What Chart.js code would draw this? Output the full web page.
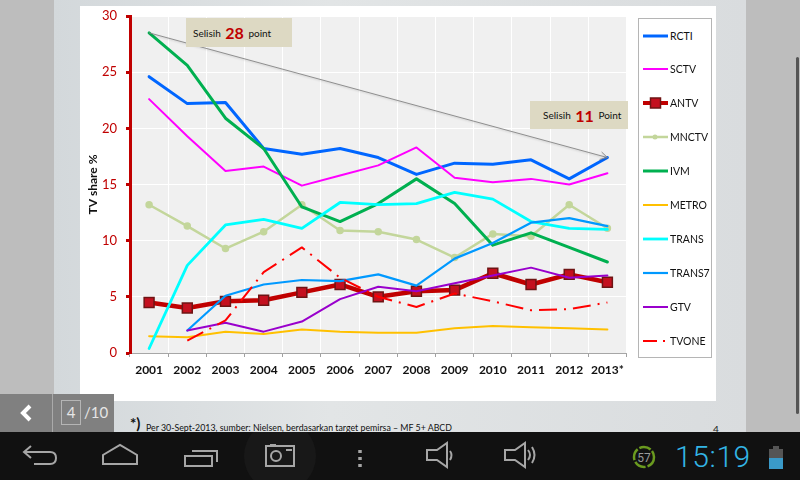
<!DOCTYPE html>
<html>
<head>
<meta charset="utf-8">
<title>TV share</title>
<script src="https://cdn.jsdelivr.net/npm/chart.js@4"></script>
<style>
html, body { margin: 0; padding: 0; }
body { width: 800px; height: 480px; position: relative; overflow: hidden; background: #bdbdbd; font-family: Lato, sans-serif; }
#slide { position: absolute; left: 54px; top: 0; width: 692px; height: 432px; background: linear-gradient(90deg, #d3d8db, #e2e5e6 40%, #d9dcde); }
#paper { position: absolute; left: 80px; top: 6px; width: 636px; height: 395px; background: #fff; }
#grafico { position: absolute; left: 80px; top: 6px; }
.nota { position: absolute; background: #ddd9c3; color: #111; font-size: 10px; display: flex; align-items: center; white-space: pre; box-sizing: border-box; }
.nota b { color: #c00000; font-size: 16px; margin: 0 2px; }
#legenda { position: absolute; left: 638px; top: 18px; width: 72px; height: 338px; border: 1px solid #b5b5b5; background: #fff; }
.item { position: absolute; left: 3px; height: 14px; display: flex; align-items: center; font-size: 10.5px; color: #111; }
.item svg { margin-right: 1px; }
#rodape { position: absolute; left: 146px; top: 422px; font-size: 8.8px; color: #111; white-space: nowrap; }
#asterisco { position: absolute; left: 130px; top: 414px; font-size: 15px; font-weight: bold; color: #111; }
#num { position: absolute; left: 713px; top: 423px; font-size: 10px; color: #222; }
#pager { position: absolute; left: 0; top: 394px; width: 114px; height: 38px; background: #808080; color: #e6e6e6; font-size: 15px; }
#pager .sep { position: absolute; left: 52px; top: 0; width: 1px; height: 38px; background: #aaa; }
#pager .n { position: absolute; left: 61px; top: 6px; width: 18px; height: 23px; border: 1px solid #b5b5b5; text-align: center; line-height: 23px; }
#pager .t { position: absolute; left: 84px; top: 6px; line-height: 25px; }
#barra { position: absolute; left: 0; top: 432px; width: 800px; height: 48px; background: #111; }
#barra svg { position: absolute; left: 0; top: 0; }
#hora { position: absolute; left: 675px; top: 6px; font-family: Roboto, sans-serif; font-weight: 300; font-size: 30px; color: #33b5e5; line-height: 38px; letter-spacing: 0.6px; }
#scroll { position: absolute; left: 796px; top: 57px; width: 3px; height: 357px; background: #555; border-radius: 2px; }
</style>
</head>
<body>
<div id="slide"></div>
<div id="paper"></div>
<canvas id="grafico" width="555" height="374"></canvas>
<div class="nota" style="left:186px;top:18px;width:106px;height:29px;padding-left:7px">Selisih <b>28</b> point</div>
<div class="nota" style="left:530px;top:101px;width:98px;height:28px;padding-left:13px">Selisih <b>11</b> Point</div>
<div id="legenda"></div>
<div id="asterisco">*)</div>
<div id="rodape">Per 30-Sept-2013, sumber: Nielsen, berdasarkan target pemirsa – MF 5+ ABCD</div>
<div id="num">4</div>
<div id="scroll"></div>
<div id="pager">
  <svg width="52" height="38" style="position:absolute;left:0;top:0"><path d="M30 12 L23 19 L30 26" fill="none" stroke="#fff" stroke-width="4"/></svg>
  <div class="sep"></div><div class="n">4</div><div class="t">/10</div>
</div>
<div id="barra">
  <svg width="800" height="48" fill="none" stroke="#a6a6a6" stroke-width="2">
    <circle cx="280" cy="24" r="36" fill="#181818" stroke="none"/>
    <path d="M31 14 L24 20 L31 26 M24 20 H50 Q56 20 56 26 Q56 32 50 32 H34"/>
    <path d="M103 32 V23 L120 13 L137 23 V32 Z"/>
    <path d="M185 24 H212 V34 H185 Z M192 19 H217 V30"/>
    <path d="M266 14 H294 V34 H266 Z M270 13 H276"/><circle cx="276" cy="24" r="5"/><path d="M286 18 H292"/>
    <path d="M360 18 v3 M360 25 v3 M360 32 v3" stroke-width="3.5"/>
    <path d="M427 18 H437 L447 11 V35 L437 28 H427 Z"/><path d="M450 19 Q453 23 450 28"/>
    <path d="M505 18 H515 L525 11 V35 L515 28 H505 Z"/><path d="M528 18 Q532 23 528 28 M532 15 Q537 23 532 31"/>
    <circle cx="644" cy="25" r="10" stroke="#6a9a1f" stroke-width="2.5" stroke-dasharray="12 2"/>
    <text x="644" y="30" text-anchor="middle" font-family="Roboto" font-size="12" fill="#9a9a9a" stroke="none">57</text>
    <rect x="769" y="17" width="14" height="9" fill="#555" stroke="none"/>
    <rect x="773" y="14" width="6" height="3" fill="#555" stroke="none"/>
    <rect x="769" y="26" width="14" height="11" fill="#3a9ac9" stroke="none"/>
  </svg>
  <div id="hora">15:19</div>
</div>

<script>
// dados
const anos = ['2001', '2002', '2003', '2004', '2005', '2006', '2007', '2008', '2009', '2010', '2011', '2012', '2013*'];
const ticksY = [0, 5, 10, 15, 20, 25, 30];

const rcti = [24.6, 22.2, 22.3, 18.2, 17.7, 18.2, 17.4, 15.9, 16.9, 16.8, 17.2, 15.5, 17.4];
const sctv = [22.6, 19.3, 16.2, 16.6, 14.9, 15.8, 16.7, 18.3, 15.6, 15.2, 15.5, 15.0, 16.0];
const antv = [4.5, 4.0, 4.6, 4.7, 5.4, 6.1, 5.0, 5.5, 5.6, 7.1, 6.1, 7.0, 6.3];
const mnctv = [13.2, 11.3, 9.3, 10.8, 13.2, 10.9, 10.8, 10.1, 8.5, 10.6, 10.4, 13.2, 11.1];
const ivm = [28.5, 25.6, 20.9, 18.2, 13.0, 11.7, 13.3, 15.5, 13.3, 9.6, 10.7, 9.4, 8.1];
const metro = [1.5, 1.4, 1.9, 1.7, 2.1, 1.9, 1.8, 1.8, 2.2, 2.4, 2.3, 2.2, 2.1];
const trans = [0.4, 7.8, 11.4, 11.9, 11.1, 13.4, 13.2, 13.3, 14.3, 13.7, 11.7, 11.1, 11.0];
const trans7 = [null, 2.0, 5.1, 6.1, 6.5, 6.4, 7.0, 6.0, 8.4, 9.8, 11.6, 12.0, 11.3];
const gtv = [null, 2.0, 2.7, 1.9, 2.8, 4.8, 5.9, 5.5, 6.2, 6.9, 7.6, 6.7, 6.9];
const tvone = [null, 1.1, 2.9, 7.2, 9.4, 6.7, 5.0, 4.1, 5.3, 4.6, 3.8, 3.9, 4.5];

function serie(label, data, cor, largura, extra) {
    return Object.assign({
        label: label,
        data: data,
        borderColor: cor,
        backgroundColor: cor,
        borderWidth: largura,
        pointRadius: 0,
        tension: 0,
        borderCapStyle: 'round',
        borderJoinStyle: 'round'
    }, extra);
}

const series = [
    serie('RCTI', rcti, '#0066ff', 3),
    serie('SCTV', sctv, '#ff00ff', 2),
    serie('ANTV', antv, '#c00000', 4.5, { pointStyle: 'rect', pointRadius: 7, pointBackgroundColor: '#c4101f', pointBorderColor: '#6e1414', pointBorderWidth: 1.5 }),
    serie('MNCTV', mnctv, '#c3d69b', 2.5, { pointStyle: 'circle', pointRadius: 2.5, pointBackgroundColor: '#c3d69b', pointBorderColor: '#c3d69b' }),
    serie('IVM', ivm, '#00b050', 3),
    serie('METRO', metro, '#ffc000', 2),
    serie('TRANS', trans, '#00ffff', 2.8),
    serie('TRANS7', trans7, '#0099ff', 2.2),
    serie('GTV', gtv, '#9900cc', 2),
    serie('TVONE', tvone, '#ff0000', 2, { borderDash: [18, 7, 2, 7], borderCapStyle: 'butt' })
];

// ultimo da lista fica por cima
series.forEach(function (s, i) { s.order = series.length - i; });

// fundo cinza da area do grafico
const fundoPlugin = {
    id: 'fundo',
    beforeDraw: function (chart) {
        const a = chart.chartArea;
        chart.ctx.save();
        chart.ctx.fillStyle = '#f0f0f0';
        chart.ctx.fillRect(a.left, a.top, a.right - a.left, a.bottom - a.top);
        chart.ctx.restore();
    }
};

// seta do IVM 2001 ate o RCTI 2013
const setaPlugin = {
    id: 'seta',
    afterDatasetsDraw: function (chart) {
        const ctx = chart.ctx;
        const x1 = chart.scales.x.getPixelForValue(0);
        const y1 = chart.scales.y.getPixelForValue(ivm[0]);
        const x2 = chart.scales.x.getPixelForValue(anos.length - 1);
        const y2 = chart.scales.y.getPixelForValue(rcti[rcti.length - 1]);
        const ang = Math.atan2(y2 - y1, x2 - x1);
        ctx.save();
        ctx.strokeStyle = '#858585';
        ctx.lineWidth = 0.9;
        ctx.shadowColor = 'rgba(0,0,0,0.18)';
        ctx.shadowBlur = 2;
        ctx.shadowOffsetY = 1;
        ctx.beginPath();
        ctx.moveTo(x1, y1);
        ctx.lineTo(x2, y2);
        ctx.moveTo(x2 - 8 * Math.cos(ang - 0.5), y2 - 8 * Math.sin(ang - 0.5));
        ctx.lineTo(x2, y2);
        ctx.lineTo(x2 - 8 * Math.cos(ang + 0.5), y2 - 8 * Math.sin(ang + 0.5));
        ctx.stroke();
        ctx.restore();
    }
};

const config = {
    type: 'line',
    data: { labels: anos, datasets: series },
    options: {
        responsive: false,
        animation: false,
        devicePixelRatio: 1,
        layout: { padding: { top: 10, right: 0, bottom: 0, left: 6 } },
        plugins: { legend: { display: false }, tooltip: { enabled: false } },
        scales: {
            x: {
                offset: true,
                grid: { offset: true, color: '#ffffff', lineWidth: 1, tickColor: '#a0a0a0', tickLength: 4 },
                border: { color: '#a6a6a6', width: 1 },
                ticks: { color: '#111', font: { family: 'Lato', size: 12, weight: 'bold' }, maxRotation: 0, autoSkip: false, padding: 6 },
                afterFit: function (scale) { scale.height = 27; }
            },
            y: {
                min: 0,
                max: 30,
                afterBuildTicks: function (scale) { scale.ticks = ticksY.map(function (v) { return { value: v }; }); },
                title: { display: true, text: 'TV share %', color: '#111', font: { family: 'Lato', size: 12, weight: 'bold' }, padding: 0 },
                grid: { color: '#ffffff', lineWidth: 1, tickColor: '#c00000', tickLength: 4, tickWidth: 3 },
                border: { color: '#c00000', width: 3 },
                ticks: { color: '#c00000', font: { family: 'Lato', size: 13 }, padding: 9 },
                afterFit: function (scale) {
                    scale.width = 44;
                    // sem isso o padding dos ticks empurra o topo do grafico
                    scale.paddingTop = 0;
                    scale.paddingBottom = 0;
                }
            }
        }
    },
    plugins: [fundoPlugin, setaPlugin]
};

const grafico = new Chart(document.getElementById('grafico'), config);

// legenda em html, com as cores das series
const legenda = document.getElementById('legenda');
const passoLegenda = 33.9;
series.forEach(function (s, i) {
    const item = document.createElement('div');
    item.className = 'item';
    item.style.top = (9.5 + i * passoLegenda) + 'px';
    let marca = '';
    if (s.label == 'ANTV') {
        marca = '<rect x="8.5" y="2" width="10" height="10" fill="#c4101f" stroke="#6e1414" stroke-width="1.5"/>';
    } else if (s.label == 'MNCTV') {
        marca = '<circle cx="13" cy="7" r="2.5" fill="#c3d69b"/>';
    }
    const traco = s.borderDash ? ' stroke-dasharray="14 6 2 6"' : '';
    item.innerHTML = '<svg width="27" height="14"><line x1="1" y1="7" x2="26" y2="7" stroke="' + s.borderColor + '" stroke-width="' + Math.min(s.borderWidth, 4) + '"' + traco + '/>' + marca + '</svg>' + s.label;
    legenda.appendChild(item);
});
</script>
</body>
</html>
